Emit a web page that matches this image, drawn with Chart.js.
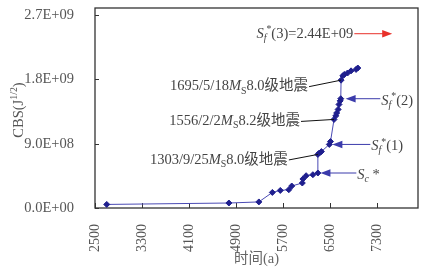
<!DOCTYPE html>
<html>
<head>
<meta charset="utf-8">
<script src="https://cdn.jsdelivr.net/npm/chart.js@4"></script>
<style>
html, body { margin: 0; padding: 0; background: #fff; }
</style>
</head>
<body>
<canvas id="myChart" width="438" height="268"></canvas>
<script>
// CBS accumulation curve vs time

// Data
const years = [2700, 4780, 5290, 5520, 5655, 5800, 5850, 6030, 6040, 6095, 6210, 6295, 6295, 6320, 6355,
    6490, 6510, 6570, 6600, 6615, 6640, 6655, 6675, 6685, 6690, 6720, 6745, 6800, 6860, 6945, 6975];
const cbs = [5e7, 7e7, 8.5e7, 2.18e8, 2.46e8, 2.56e8, 3.08e8, 3.5e8, 4.06e8, 4.52e8, 4.66e8, 4.9e8, 7.5e8, 7.7e8, 7.9e8,
    8.9e8, 9.3e8, 1.24e9, 1.29e9, 1.33e9, 1.38e9, 1.45e9, 1.5e9, 1.53e9, 1.79e9, 1.85e9, 1.87e9, 1.89e9, 1.92e9, 1.94e9, 1.96e9];

const xTicks = [2500, 3300, 4100, 4900, 5700, 6500, 7300];
const yTicks = [0, 9e8, 1.8e9, 2.7e9];

// Earthquake labels, each pointing at a data point
const quakeDates = ['1695/5/18', '1556/2/2', '1303/9/25'];
const quakeMags = ['8.0', '8.2', '8.0'];
const quakeIdx = [24, 17, 12];

// Threshold arrows: level, tip and tail positions along x (data units)
const thrNames = ['3', '2', '1', 'c'];
const thrValues = [2.44e9, 1.53e9, 8.9e8, 4.9e8];
const thrText = ['2.44E+09', '', '', ''];
const thrTip = [6916, 6768, 6542, 6339];
const thrTail = [7561, 7358, 7188, 6950];

const SERIF = "'Liberation Serif', 'Noto Sans CJK SC', serif";
const FS = 14.5;

function sci(v) {
    if (v === 0) return '0.0E+00';
    const e = Math.floor(Math.log10(v));
    const m = (v / Math.pow(10, e)).toFixed(1);
    return m + 'E+' + String(e).padStart(2, '0');
}

// rich text: parts are [text, style]; style flags: i = italic, b = subscript, p = superscript
function setFont(ctx, style, size) {
    const small = style.includes('b') || style.includes('p');
    const s = small ? size * 0.68 : size;
    ctx.font = (style.includes('i') ? 'italic ' : '') + s + 'px ' + SERIF;
}
function richWidth(ctx, parts, size) {
    let w = 0;
    parts.forEach(p => { setFont(ctx, p[1], size); w += ctx.measureText(p[0]).width; });
    return w;
}
function drawRich(ctx, parts, x, y, size, align) {
    let cx = align === 'right' ? x - richWidth(ctx, parts, size) : x;
    ctx.textBaseline = 'middle';
    ctx.textAlign = 'left';
    parts.forEach(p => {
        setFont(ctx, p[1], size);
        let dy = 0;
        if (p[1].includes('b')) dy = size * 0.3;
        if (p[1].includes('p')) dy = -size * 0.3;
        ctx.fillText(p[0], cx, y + dy);
        cx += ctx.measureText(p[0]).width;
    });
}

function arrow(ctx, x1, x2, y, color) {
    ctx.strokeStyle = color;
    ctx.fillStyle = color;
    ctx.lineWidth = 1;
    ctx.beginPath();
    ctx.moveTo(x1, y);
    ctx.lineTo(x2 + (x2 > x1 ? -6 : 6), y);
    ctx.stroke();
    const dir = x2 > x1 ? -1 : 1;
    ctx.beginPath();
    ctx.moveTo(x2, y);
    ctx.lineTo(x2 + dir * 10, y - 3.8);
    ctx.lineTo(x2 + dir * 10, y + 3.8);
    ctx.closePath();
    ctx.fill();
}

const decor = {
    id: 'decor',
    beforeDatasetsDraw(chart) {
        const {ctx, chartArea: a, scales: {x, y}} = chart;
        ctx.save();
        ctx.strokeStyle = '#333';
        ctx.lineWidth = 1.3;
        ctx.strokeRect(a.left, a.top, a.right - a.left, a.bottom - a.top);
        ctx.lineWidth = 1;
        ctx.beginPath();
        xTicks.forEach(v => {
            const px = Math.round(x.getPixelForValue(v)) + 0.5;
            ctx.moveTo(px, a.bottom);
            ctx.lineTo(px, a.bottom - 5);
        });
        yTicks.forEach(v => {
            const py = Math.round(y.getPixelForValue(v)) + 0.5;
            ctx.moveTo(a.left, py);
            ctx.lineTo(a.left + 4, py);
        });
        ctx.stroke();

        // y axis title with superscript
        ctx.translate(19, (a.top + a.bottom) / 2 + 2);
        ctx.rotate(-Math.PI / 2);
        ctx.fillStyle = '#555';
        const parts = [['CBS(J', ''], ['1/2', 'p'], [')', '']];
        drawRich(ctx, parts, -richWidth(ctx, parts, FS) / 2, 0, FS, 'left');
        ctx.restore();
    },
    afterDatasetsDraw(chart) {
        const {ctx, scales: {x, y}} = chart;
        ctx.save();
        const offs = [[-32, 6.5], [-33, 2], [-29, 5.5]];
        quakeDates.forEach((d, i) => {
            const k = quakeIdx[i];
            const px = x.getPixelForValue(years[k]);
            const py = y.getPixelForValue(cbs[k]);
            const sx = px + offs[i][0], sy = py + offs[i][1];
            ctx.strokeStyle = '#111';
            ctx.lineWidth = 1;
            ctx.beginPath();
            ctx.moveTo(sx, sy);
            ctx.lineTo(px, py);
            ctx.stroke();
            ctx.fillStyle = '#444';
            drawRich(ctx, [[d, ''], ['M', 'i'], ['S', 'b'], [quakeMags[i] + '级地震', '']], sx - 1, sy, FS, 'right');
        });

        thrNames.forEach((n, i) => {
            const py = y.getPixelForValue(thrValues[i]);
            const tip = x.getPixelForValue(thrTip[i]);
            const tail = x.getPixelForValue(thrTail[i]);
            if (n === '3') {
                arrow(ctx, tip, tail, py, '#e8302a');
                ctx.fillStyle = '#444';
                drawRich(ctx, [['S', 'i'], ['f', 'ib'], ['*', 'p'], ['(3)=' + thrText[i], '']], tip - 1, py, FS, 'right');
            } else {
                arrow(ctx, tail, tip, py, '#3b3bab');
                ctx.fillStyle = '#444';
                const parts = n === 'c'
                    ? [['S', 'i'], ['c', 'ib'], [' *', '']]
                    : [['S', 'i'], ['f', 'ib'], ['*', 'p'], ['(' + n + ')', '']];
                drawRich(ctx, parts, tail + 1, py + 2, FS, 'left');
            }
        });
        ctx.restore();
    }
};

const ctx = document.getElementById('myChart');

const chart = new Chart(ctx, {
    type: 'scatter',
    data: {
        datasets: [{
            data: years.map((v, i) => ({x: v, y: cbs[i]})),
            showLine: true,
            borderColor: '#4a4ab4',
            borderWidth: 1,
            pointStyle: 'rectRot',
            pointRadius: 3,
            pointBackgroundColor: '#1f1f8e',
            pointBorderColor: '#1f1f8e',
            pointBorderWidth: 1
        }]
    },
    options: {
        responsive: false,
        animation: false,
        devicePixelRatio: 1,
        layout: {padding: {left: 0, right: 20, top: 0, bottom: 0}},
        plugins: {legend: {display: false}, tooltip: {enabled: false}},
        scales: {
            x: {
                type: 'linear',
                min: 2500,
                max: 8000,
                afterBuildTicks: s => { s.ticks = xTicks.map(v => ({value: v})); },
                afterFit: s => { s.height = 60; },
                grid: {display: false},
                border: {display: false},
                ticks: {
                    minRotation: 90,
                    maxRotation: 90,
                    padding: 8,
                    color: '#555',
                    font: {family: SERIF, size: 14},
                    callback: v => String(v)
                },
                title: {
                    display: true,
                    text: '时间(a)',
                    color: '#666',
                    font: {family: SERIF, size: FS},
                    padding: {top: 0, bottom: 0}
                }
            },
            y: {
                min: 0,
                max: 2.8e9,
                afterBuildTicks: s => { s.ticks = yTicks.map(v => ({value: v})); },
                afterFit: s => { s.width = 95; s.paddingTop = 8; s.paddingBottom = 0; },
                grid: {display: false},
                border: {display: false},
                ticks: {
                    padding: 13,
                    color: '#555',
                    font: {family: SERIF, size: FS},
                    callback: v => sci(v)
                }
            }
        }
    },
    plugins: [decor]
});
</script>
</body>
</html>
